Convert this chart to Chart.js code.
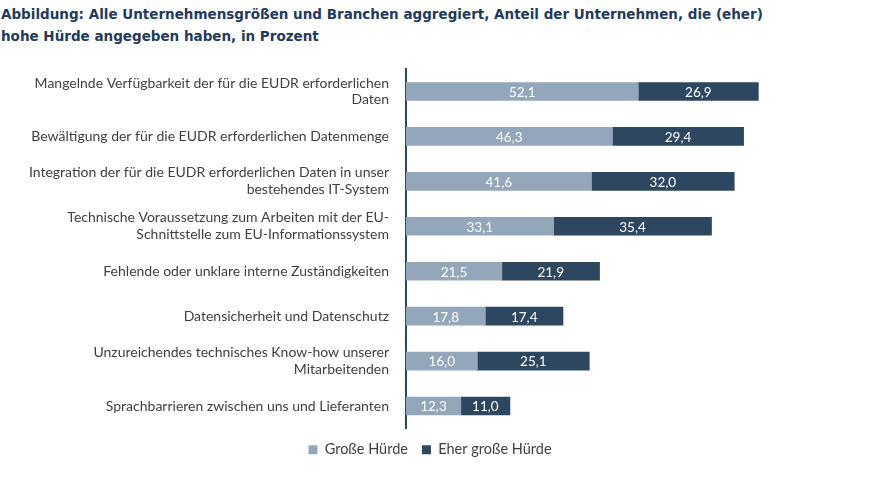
<!DOCTYPE html>
<html><head><meta charset="utf-8">
<script src="https://cdn.jsdelivr.net/npm/chart.js@4"></script>
<style>
body{margin:0;background:#fff;}
#wrap{position:relative;width:869px;height:491px;}
#title{position:absolute;left:1px;top:3px;font:bold 13.5px "DejaVu Sans",sans-serif;color:#1F3A5A;line-height:22px;}
canvas{position:absolute;left:0;top:0;}
</style></head><body>
<div id="wrap">
<div id="title">Abbildung: Alle Unternehmensgrößen und Branchen aggregiert, Anteil der Unternehmen, die (eher)<br>hohe Hürde angegeben haben, in Prozent</div>
<canvas id="c" width="869" height="491"></canvas>
</div>
<script>
const categories = [
 ["Mangelnde Verfügbarkeit der für die EUDR erforderlichen","Daten"],
 "Bewältigung der für die EUDR erforderlichen Datenmenge",
 ["Integration der für die EUDR erforderlichen Daten in unser","bestehendes IT-System"],
 ["Technische Voraussetzung zum Arbeiten mit der EU-","Schnittstelle zum EU-Informationssystem"],
 "Fehlende oder unklare interne Zuständigkeiten",
 "Datensicherheit und Datenschutz",
 ["Unzureichendes technisches Know-how unserer","Mitarbeitenden"],
 "Sprachbarrieren zwischen uns und Lieferanten"
];
const grosse = [52.1,46.3,41.6,33.1,21.5,17.8,16.0,12.3];
const eherGrosse = [26.9,29.4,32.0,35.4,21.9,17.4,25.1,11.0];
const seriesNames = ["Große Hürde","Eher große Hürde"];

const labelPlugin = {
 id:'vals',
 afterDatasetsDraw(chart){
  const ctx=chart.ctx; ctx.save();
  ctx.font='13.5px Lato, sans-serif'; ctx.fillStyle='#fff';
  ctx.textAlign='center'; ctx.textBaseline='middle';
  chart.data.datasets.forEach((ds,i)=>{
   chart.getDatasetMeta(i).data.forEach((bar,j)=>{
    const x=(bar.x+bar.base)/2;
    ctx.fillText(ds.data[j].toFixed(1).replace('.',','),x,bar.y+1);
   });
  });
  ctx.restore();
 }
};

new Chart(document.getElementById('c'),{
 type:'bar',
 data:{labels:categories,datasets:[
  {label:seriesNames[0],data:grosse,backgroundColor:'#94A7BA',barThickness:18},
  {label:seriesNames[1],data:eherGrosse,backgroundColor:'#2E4760',barThickness:18}
 ]},
 options:{
  indexAxis:'y',responsive:false,animation:false,
  layout:{padding:{left:8,right:17,top:69,bottom:24}},
  scales:{
   x:{stacked:true,display:false,min:0,max:100},
   y:{stacked:true,grid:{display:false},
      border:{color:'#2E4760',width:2},
      ticks:{color:'#404040',font:{family:'Lato',size:14},padding:9},
      afterFit(s){s.width=398;}}
  },
  plugins:{
   legend:{position:'bottom',labels:{boxWidth:9,boxHeight:9,color:'#404040',font:{family:'Lato',size:14.5},padding:14}},
   tooltip:{enabled:false}
  }
 },
 plugins:[labelPlugin]
});
</script>
</body></html>
